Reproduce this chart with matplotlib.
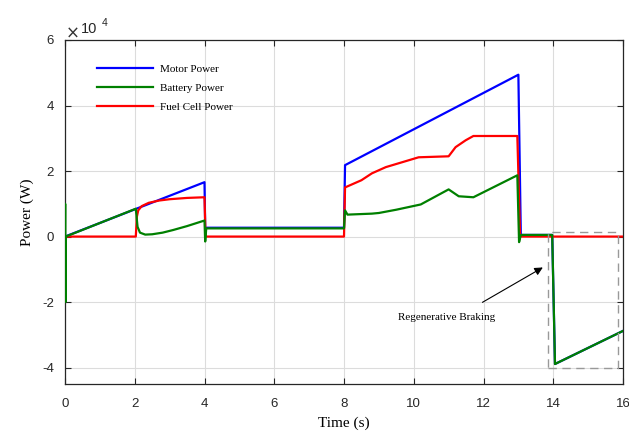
import matplotlib
matplotlib.use("Agg")
import matplotlib.pyplot as plt
from matplotlib.lines import Line2D
from matplotlib.patches import Rectangle

plt.rcParams['axes.unicode_minus'] = False

# values in units of 1e4 W
motor_t = [0.0, 4.0, 4.02, 8.0, 8.03, 13.0, 13.07, 13.97, 14.05, 16.0]
motor_p = [0.0, 1.66, 0.27, 0.27, 2.18, 4.94, 0.05, 0.05, -3.89, -2.88]

fc_t = [0.0, 2.03, 2.06, 2.1, 2.2, 2.4, 2.7, 3.0, 3.5, 4.0, 4.03, 8.0, 8.03,
        8.5, 8.8, 9.2, 10.14, 11.0, 11.2, 11.49, 11.71, 12.97, 13.05, 16.0]
fc_p = [0.0, 0.0, 0.6, 0.8, 0.93, 1.03, 1.1, 1.14, 1.18, 1.2, 0.0, 0.0, 1.5,
        1.72, 1.93, 2.12, 2.42, 2.45, 2.73, 2.94, 3.07, 3.07, 0.0, 0.0]

bat_t = [0.0, 0.005, 0.012, 0.02, 2.03, 2.08, 2.15, 2.3, 2.5, 2.8, 3.1, 3.5,
         4.0, 4.02, 4.05, 8.0, 8.03, 8.1, 8.8, 9.0, 9.5, 10.2, 11.0, 11.29,
         11.71, 12.97, 13.02, 13.07, 13.97, 14.05, 16.0]
bat_p = [0.0, 1.0, -2.0, 0.0, 0.85, 0.3, 0.12, 0.06, 0.07, 0.12, 0.2, 0.32,
         0.49, -0.15, 0.25, 0.25, 0.8, 0.67, 0.7, 0.72, 0.82, 0.98, 1.44, 1.23,
         1.2, 1.87, -0.17, 0.05, 0.05, -3.89, -2.88]

labels = ['Motor Power', 'Battery Power', 'Fuel Cell Power']
colors = ['#0000ff', '#008000', '#ff0000']

x_ticks = [0, 2, 4, 6, 8, 10, 12, 14, 16]
y_ticks = [-4, -2, 0, 2, 4, 6]

fig = plt.figure(figsize=(6.29, 4.32), dpi=100)
ax = fig.add_axes([65/629, 48/432, 558/629, 344/432])

ax.plot(motor_t, motor_p, color=colors[0], lw=1.6, zorder=3)
ax.plot(fc_t, fc_p, color=colors[2], lw=1.6, zorder=4)
ax.plot(bat_t, bat_p, color=colors[1], lw=1.6, zorder=5)

ax.set_xlim(0, 16)
ax.set_ylim(-4.5, 6)
ax.set_xticks(x_ticks)
ax.set_yticks(y_ticks)
ax.set_xticklabels([str(v) for v in x_ticks], fontsize=9.5, family='Liberation Sans', color='#262626')
ax.set_yticklabels([str(v) for v in y_ticks], fontsize=9.5, family='Liberation Sans', color='#262626')
ax.tick_params(direction='in', top=True, right=True, length=4, width=0.8, colors='#262626')
ax.tick_params(axis='x', pad=10)
ax.tick_params(axis='y', pad=8)
ax.grid(True, color='#dcdcdc', lw=0.8)
ax.set_axisbelow(True)
for s in ax.spines.values():
    s.set_color('#262626')
    s.set_linewidth(0.9)

ax.set_xlabel('Time (s)', family='Liberation Serif', fontsize=11, labelpad=5)
ax.set_ylabel('Power (W)', family='Liberation Serif', fontsize=11, labelpad=6)

fig.text(66/629, 1 - 34/432, '\u00d7', fontsize=12, color='#333333',
         family='DejaVu Sans', ha='left', va='center')
fig.text(81/629, 1 - 29/432, '10', fontsize=10.5, color='#262626',
         family='Liberation Sans', ha='left', va='center')
fig.text(102/629, 1 - 23/432, '4', fontsize=7.5, color='#262626',
         family='Liberation Sans', ha='left', va='center')

handles = [Line2D([], [], color=c, lw=1.6) for c in colors]
ax.legend(handles, labels, loc='upper left', bbox_to_anchor=(0.057, 0.93),
          frameon=False, borderpad=0, borderaxespad=0, handlelength=5.1,
          handletextpad=0.55, labelspacing=0.85,
          prop={'family': 'Liberation Serif', 'size': 8})

ax.add_patch(Rectangle((13.84, -4.0), 15.86 - 13.84, 0.15 + 4.0, fill=False,
                       ls=(0, (6, 4)), ec='#999999', lw=1.0, zorder=6))

ax.annotate('', xy=(13.77, -0.9), xytext=(11.9, -2.05),
            arrowprops=dict(arrowstyle='-|>', color='k', lw=0.8,
                            mutation_scale=12), zorder=7)
ax.text(10.94, -2.48, 'Regenerative Braking', family='Liberation Serif',
        fontsize=8, ha='center', va='center')

fig.savefig('out.png', dpi=100)
